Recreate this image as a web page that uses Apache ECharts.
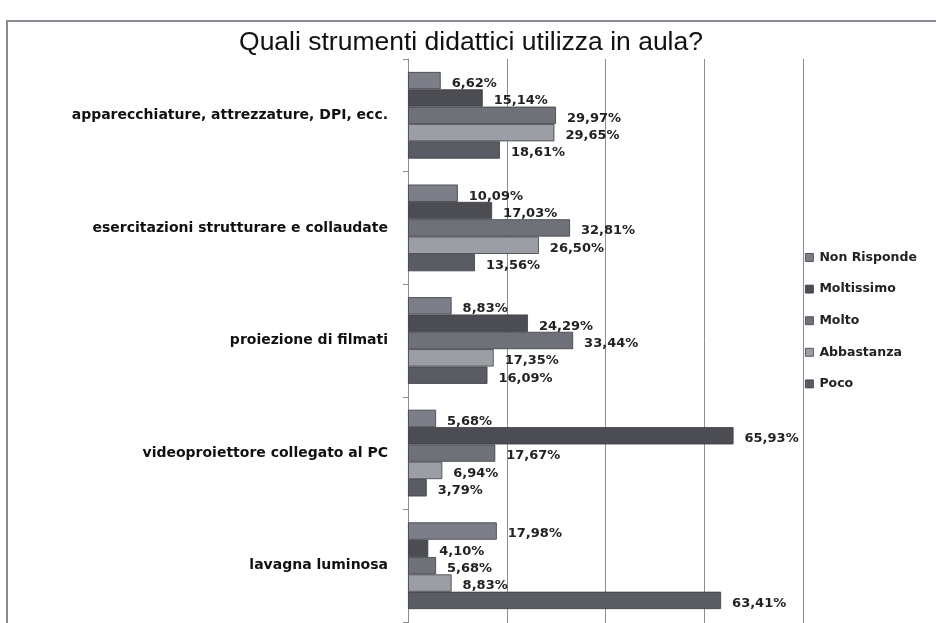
<!DOCTYPE html>
<html>
<head>
<meta charset="utf-8">
<script src="https://cdn.jsdelivr.net/npm/echarts@6/dist/echarts.min.js"></script>
<style>html,body{margin:0;padding:0;background:#fff;}#c{width:936px;height:623px;}</style>
</head>
<body>
<div id="c"></div>
<script>
const categories = [
  "apparecchiature, attrezzature, DPI, ecc.",
  "esercitazioni strutturare e collaudate",
  "proiezione di filmati",
  "videoproiettore collegato al PC",
  "lavagna luminosa"
];
const seriesNames = ["Non Risponde", "Moltissimo", "Molto", "Abbastanza", "Poco"];
const nonRisponde = [6.62, 10.09, 8.83, 5.68, 17.98];
const moltissimo = [15.14, 17.03, 24.29, 65.93, 4.10];
const molto = [29.97, 32.81, 33.44, 17.67, 5.68];
const abbastanza = [29.65, 26.50, 17.35, 6.94, 8.83];
const poco = [18.61, 13.56, 16.09, 3.79, 63.41];
const colors = ["#7c7e88", "#4b4d52", "#6f7179", "#9c9ea6", "#5a5c63"];
const allData = [nonRisponde, moltissimo, molto, abbastanza, poco];

const chart = echarts.init(document.getElementById('c'), null, {renderer: 'canvas'});
const series = seriesNames.map((n, i) => ({
  name: n,
  type: 'bar',
  data: allData[i],
  barGap: '0%',
  barCategoryGap: '23%',
  itemStyle: {color: colors[i], borderColor: '#3c3d42', borderWidth: 0.8},
  label: {
    show: true, position: 'right', distance: 11, offset: [0, 3],
    fontFamily: 'DejaVu Sans', fontWeight: 'bold', fontSize: 13, color: '#222',
    formatter: p => p.value.toFixed(2).replace('.', ',') + '%'
  }
}));

chart.setOption({
  animation: false,
  backgroundColor: '#fff',
  title: {
    text: 'Quali strumenti didattici utilizza in aula?',
    left: 466, top: 24, textAlign: 'center',
    textStyle: {fontFamily: 'Liberation Sans', fontWeight: 'normal', fontSize: 26.5, color: '#111'}
  },
  graphic: [{
    type: 'rect', shape: {x: 7, y: 21, width: 960, height: 640},
    style: {fill: 'none', stroke: '#8a8c94', lineWidth: 2}, silent: true
  }],
  legend: {
    orient: 'vertical', left: 800, top: 246,
    itemWidth: 8, itemHeight: 8, itemGap: 18.6, icon: 'rect',
    itemStyle: {borderColor: '#3c3d42', borderWidth: 0.8},
    textStyle: {fontFamily: 'DejaVu Sans', fontWeight: 'bold', fontSize: 12.5, color: '#222', padding: [0, 0, 0, 1]},
    data: seriesNames
  },
  grid: {left: 408, right: 133, top: 59, bottom: 1, containLabel: false},
  xAxis: {
    type: 'value', min: 0, max: 80, interval: 20,
    axisLabel: {show: false},
    axisLine: {show: false},
    axisTick: {show: true, length: 6, lineStyle: {color: '#8a8c99'}},
    splitLine: {show: true, lineStyle: {color: '#8a8c99', width: 1}}
  },
  yAxis: {
    type: 'category', data: categories, inverse: true,
    axisLine: {show: true, lineStyle: {color: '#8a8c99', width: 1}},
    axisTick: {show: true, length: 5, lineStyle: {color: '#8a8c99'}},
    axisLabel: {
      margin: 20, fontFamily: 'DejaVu Sans', fontWeight: 'bold', fontSize: 14, color: '#111'
    }
  },
  series: series
});
</script>
</body>
</html>
